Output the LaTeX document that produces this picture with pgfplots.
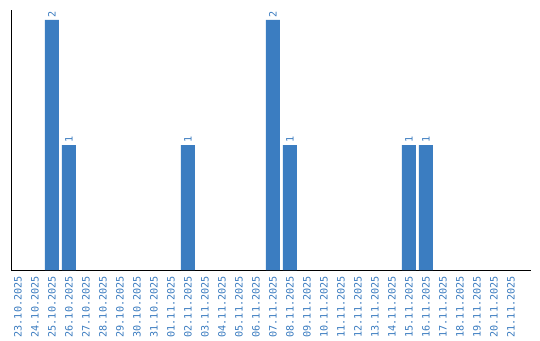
\documentclass[border=0pt]{standalone}
\usepackage{fontspec}
\setmainfont{DejaVu Sans}
\newfontfamily\monof{DejaVu Sans Mono}
\usepackage{pgfplots}
\pgfplotsset{compat=1.18}
\definecolor{barblue}{RGB}{59,125,193}
\definecolor{lblblue}{RGB}{58,123,191}
\begin{document}
\begin{tikzpicture}[x=1bp,y=1bp]
\useasboundingbox (0,0) rectangle (540,340);
\begin{axis}[
  at={(11bp,70bp)}, anchor=south west,
  scale only axis, width=520bp, height=260bp,
  axis x line=bottom, axis y line=left,
  axis line style={-, black, line width=1bp},
  xmin=-0.41, xmax=30.18, ymin=0, ymax=2.08,
  ytick=\empty,
  xtick={0,...,29},
  major tick length=0pt,
  xticklabels={23.10.2025,24.10.2025,25.10.2025,26.10.2025,27.10.2025,28.10.2025,29.10.2025,30.10.2025,31.10.2025,01.11.2025,02.11.2025,03.11.2025,04.11.2025,05.11.2025,06.11.2025,07.11.2025,08.11.2025,09.11.2025,10.11.2025,11.11.2025,12.11.2025,13.11.2025,14.11.2025,15.11.2025,16.11.2025,17.11.2025,18.11.2025,19.11.2025,20.11.2025,21.11.2025},
  xticklabel style={rotate=90, anchor=east, font=\monof\fontsize{10.2}{12}\selectfont, text=lblblue, inner sep=0pt},
  xticklabel shift=6bp,
  clip=false,
]
\addplot[ybar, bar width=14bp, fill=barblue, draw=none,
  nodes near coords={\monof\fontsize{10.2}{12}\selectfont\pgfmathprintnumber[assume math mode=true]{\pgfplotspointmeta}},
  every node near coord/.append style={rotate=90, anchor=west, text=lblblue, inner sep=2bp, font=\monof\fontsize{10.2}{12}\selectfont}]
  coordinates {(2,2) (3,1) (10,1) (15,2) (16,1) (23,1) (24,1)};
\end{axis}
\end{tikzpicture}
\end{document}
